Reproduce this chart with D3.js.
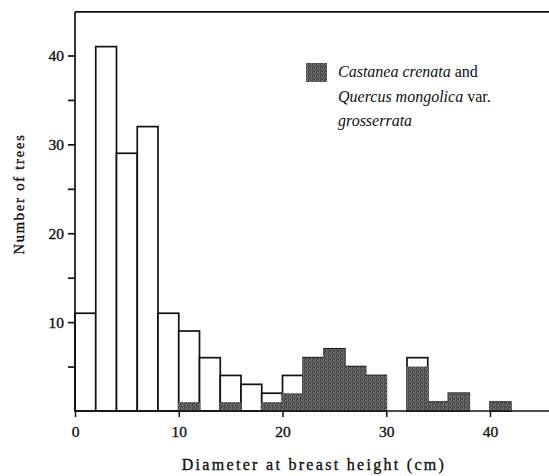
<!DOCTYPE html>
<html>
<head>
<meta charset="utf-8">
<script src="https://cdn.jsdelivr.net/npm/d3@7"></script>
<style>
  html, body { margin: 0; padding: 0; background: #fff; }
  svg { display: block; }
  text { font-family: "Liberation Serif", "DejaVu Serif", serif; fill: #111; }
  .heavy { stroke: #111; stroke-width: 0.35px; }
</style>
</head>
<body>
<svg id="chart" width="549" height="476"></svg>
<script>
// Diameter classes (lower bound of each 2 cm bin)
const binStarts = [0, 2, 4, 6, 8, 10, 12, 14, 16, 18, 20, 22, 24, 26, 28, 30, 32, 34, 36, 38, 40, 42, 44];
// Number of trees per bin, all species
const allTrees = [11, 41, 29, 32, 11, 9, 6, 4, 3, 2, 4, 6, 7, 5, 4, 0, 6, 1, 2, 0, 1, 0, 0];
// Castanea crenata and Quercus mongolica var. grosserrata
const oakChestnut = [0, 0, 0, 0, 0, 1, 0, 1, 0, 1, 2, 6, 7, 5, 4, 0, 5, 1, 2, 0, 1, 0, 0];
const binWidth = 2;
const xTickValues = [0, 10, 20, 30, 40];
const yTickValues = [5, 10, 15, 20, 25, 30, 35, 40];
const yLabelled = [10, 20, 30, 40];
const legendLines = [
  [{ t: "Castanea crenata", i: true }, { t: " and", i: false }],
  [{ t: "Quercus mongolica", i: true }, { t: " var.", i: false }],
  [{ t: "grosserrata", i: true }]
];

const svg = d3.select("#chart");
const W = 549;

const x = d3.scaleLinear().domain([0, 40]).range([75, 490]);
const y = d3.scaleLinear().domain([0, 40]).range([411, 55.5]);
const yTop = 44.9;

// stippled grey fill for the shaded series
const defs = svg.append("defs");
const pat = defs.append("pattern")
  .attr("id", "stipple").attr("patternUnits", "userSpaceOnUse")
  .attr("width", 4).attr("height", 4);
pat.append("rect").attr("width", 4).attr("height", 4).attr("fill", "#585858");
[[0,0,"#3c3c3c"],[2,1,"#747474"],[1,2,"#444"],[3,3,"#7c7c7c"],[3,0,"#666"],[0,3,"#4c4c4c"],[2,3,"#3e3e3e"],[1,0,"#767676"]]
  .forEach(([px, py, c]) => pat.append("rect").attr("x", px).attr("y", py).attr("width", 1).attr("height", 1).attr("fill", c));

const bins = binStarts.map((s, i) => ({ s, total: allTrees[i], shaded: oakChestnut[i] }));

// outlined bars: all trees
svg.append("g").selectAll("rect")
  .data(bins.filter(d => d.total > 0))
  .join("rect")
  .attr("x", d => x(d.s))
  .attr("y", d => y(d.total))
  .attr("width", d => x(d.s + binWidth) - x(d.s))
  .attr("height", d => y(0) - y(d.total))
  .attr("fill", "#fff")
  .attr("stroke", "#111")
  .attr("stroke-width", 1.7);

// shaded bars
svg.append("g").selectAll("rect")
  .data(bins.filter(d => d.shaded > 0))
  .join("rect")
  .attr("x", d => x(d.s) - 0.8)
  .attr("y", d => y(d.shaded))
  .attr("width", d => x(d.s + binWidth) - x(d.s) + 1.6)
  .attr("height", d => y(0) - y(d.shaded))
  .attr("fill", "url(#stipple)");

// frame lines
svg.append("line").attr("x1", x(0)).attr("x2", W).attr("y1", y(yTop)).attr("y2", y(yTop))
  .attr("stroke", "#111").attr("stroke-width", 1.7);
svg.append("line").attr("x1", x(0)).attr("x2", W).attr("y1", y(0)).attr("y2", y(0))
  .attr("stroke", "#111").attr("stroke-width", 1.7);

// y axis
const yAxis = d3.axisLeft(y).tickValues(yTickValues).tickSize(7).tickPadding(4)
  .tickFormat(d => yLabelled.includes(d) ? d : "");
const gy = svg.append("g").attr("transform", `translate(${x(0)},0)`).call(yAxis);
gy.select(".domain").remove();
gy.selectAll(".tick line").attr("stroke", "#111").attr("stroke-width", 1.7);
gy.selectAll(".tick text").attr("class", "heavy").attr("font-size", 15.5)
  .attr("font-family", "Liberation Serif, serif").attr("fill", "#111");
svg.append("line").attr("x1", x(0)).attr("x2", x(0)).attr("y1", y(0)).attr("y2", y(yTop))
  .attr("stroke", "#111").attr("stroke-width", 1.7);

// x axis
const xAxis = d3.axisBottom(x).tickValues(xTickValues).tickSize(6).tickPadding(9);
const gx = svg.append("g").attr("transform", `translate(0,${y(0)})`).call(xAxis);
gx.select(".domain").remove();
gx.selectAll(".tick line").attr("stroke", "#111").attr("stroke-width", 1.5);
gx.selectAll(".tick text").attr("class", "heavy").attr("font-size", 15.5)
  .attr("font-family", "Liberation Serif, serif").attr("fill", "#111");

// axis titles
svg.append("text")
  .attr("class", "heavy")
  .attr("x", 314).attr("y", 470)
  .attr("text-anchor", "middle")
  .attr("font-size", 16)
  .attr("letter-spacing", 2.3)
  .text("Diameter at breast height (cm)");

svg.append("text")
  .attr("class", "heavy")
  .attr("transform", "translate(24,194) rotate(-90)")
  .attr("text-anchor", "middle")
  .attr("font-size", 14.5)
  .attr("letter-spacing", 1.8)
  .text("Number of trees");

// legend
svg.append("rect").attr("x", 306).attr("y", 63).attr("width", 21).attr("height", 19)
  .attr("fill", "url(#stipple)");
const lt = svg.append("g");
legendLines.forEach((parts, i) => {
  const t = lt.append("text").attr("x", 338).attr("y", 77 + i * 24.5).attr("font-size", 16);
  parts.forEach(p => t.append("tspan").attr("font-style", p.i ? "italic" : "normal").text(p.t));
});
</script>
</body>
</html>
